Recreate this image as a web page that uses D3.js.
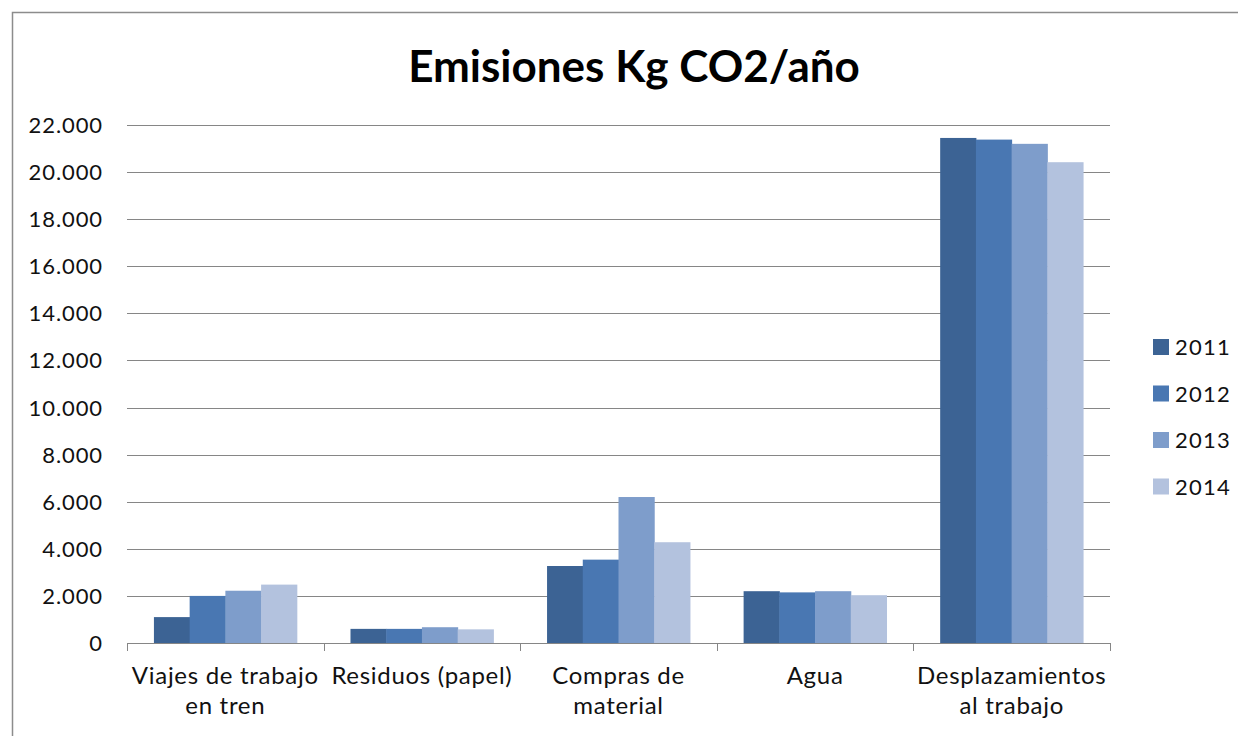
<!DOCTYPE html>
<html><head><meta charset="utf-8">
<script src="https://cdn.jsdelivr.net/npm/d3@7"></script>
<style>body{margin:0;background:#fff}svg{display:block}</style>
</head><body>
<svg id="c" width="1238" height="736"></svg>
<script>
const title = "Emisiones Kg CO2/año";
const categories = [["Viajes de trabajo","en tren"],["Residuos (papel)"],["Compras de","material"],["Agua"],["Desplazamientos","al trabajo"]];
const years = ["2011","2012","2013","2014"];
const s2011 = [1100, 600, 3270, 2200, 21450];
const s2012 = [2000, 600, 3540, 2150, 21380];
const s2013 = [2220, 670, 6200, 2200, 21200];
const s2014 = [2480, 580, 4280, 2030, 20420];
const yTicks = [0,2000,4000,6000,8000,10000,12000,14000,16000,18000,20000,22000];
const colors = ["#3c6394","#4977b2","#7e9dcb","#b3c2de"];
const series = [s2011, s2012, s2013, s2014];

const svg = d3.select("#c");
const font = "Lato, 'Noto Sans', sans-serif";
svg.append("rect").attr("x",12.5).attr("y",12.5).attr("width",1240).attr("height",740)
  .attr("fill","#fff").attr("stroke","#8c8c8c").attr("stroke-width",1.5);

const m = {l:127, r:1110, t:125, b:643};
const x = d3.scaleBand().domain(d3.range(categories.length)).range([m.l,m.r]).paddingInner(0.273).paddingOuter(0.137);
const xb = d3.scaleLinear().domain([0,categories.length]).range([m.l,m.r]);
const xi = d3.scaleBand().domain(years).range([0,x.bandwidth()]);
const y = d3.scaleLinear().domain([0,22000]).range([m.b,m.t]);

svg.append("text").attr("x",634).attr("y",82).attr("text-anchor","middle")
  .attr("font-family",font).attr("font-weight","bold").attr("font-size",44).attr("fill","#000").text(title);

const g = svg.append("g");
g.selectAll("line.grid").data(yTicks.filter(d=>d>0)).join("line")
  .attr("x1",m.l).attr("x2",m.r).attr("y1",d=>Math.round(y(d))+0.5).attr("y2",d=>Math.round(y(d))+0.5)
  .attr("stroke","#868686").attr("stroke-width",1);

const fmt = d3.formatLocale({decimal:",",thousands:".",grouping:[3],currency:["","€"]}).format(",d");
g.selectAll("text.yt").data(yTicks).join("text")
  .attr("x",103).attr("y",d=>y(d)+8).attr("text-anchor","end")
  .attr("font-family",font).attr("font-size",22).attr("letter-spacing",0.9).attr("fill","#111").text(d=>fmt(d));

years.forEach((yr,i)=>{
  g.selectAll("rect.s"+i).data(series[i]).join("rect")
    .attr("x",(d,j)=>x(j)+xi(yr)).attr("width",xi.bandwidth()+0.5)
    .attr("y",d=>y(d)).attr("height",d=>m.b-y(d)).attr("fill",colors[i]);
});

g.append("line").attr("x1",m.l).attr("x2",m.r).attr("y1",m.b+0.5).attr("y2",m.b+0.5).attr("stroke","#868686");
g.selectAll("line.xt").data(d3.range(categories.length+1)).join("line")
  .attr("x1",d=>Math.round(xb(d))+0.5).attr("x2",d=>Math.round(xb(d))+0.5).attr("y1",m.b).attr("y2",m.b+8).attr("stroke","#868686");
categories.forEach((c,j)=>{
  const t = g.append("text").attr("text-anchor","middle").attr("font-family",font).attr("font-size",24)
    .attr("letter-spacing",0.7).attr("fill","#111");
  c.forEach((line,k)=>t.append("tspan").attr("x",(xb(j)+xb(j+1))/2).attr("y",684+k*30).text(line));
});

const lg = svg.append("g");
years.forEach((yr,i)=>{
  const cy = 347 + i*46.5;
  lg.append("rect").attr("x",1153).attr("y",cy-8).attr("width",16).attr("height",16).attr("fill",colors[i]);
  lg.append("text").attr("x",1175).attr("y",cy+8).attr("font-family",font).attr("font-size",22)
    .attr("letter-spacing",1.2).attr("fill","#111").text(yr);
});
</script>
</body></html>
